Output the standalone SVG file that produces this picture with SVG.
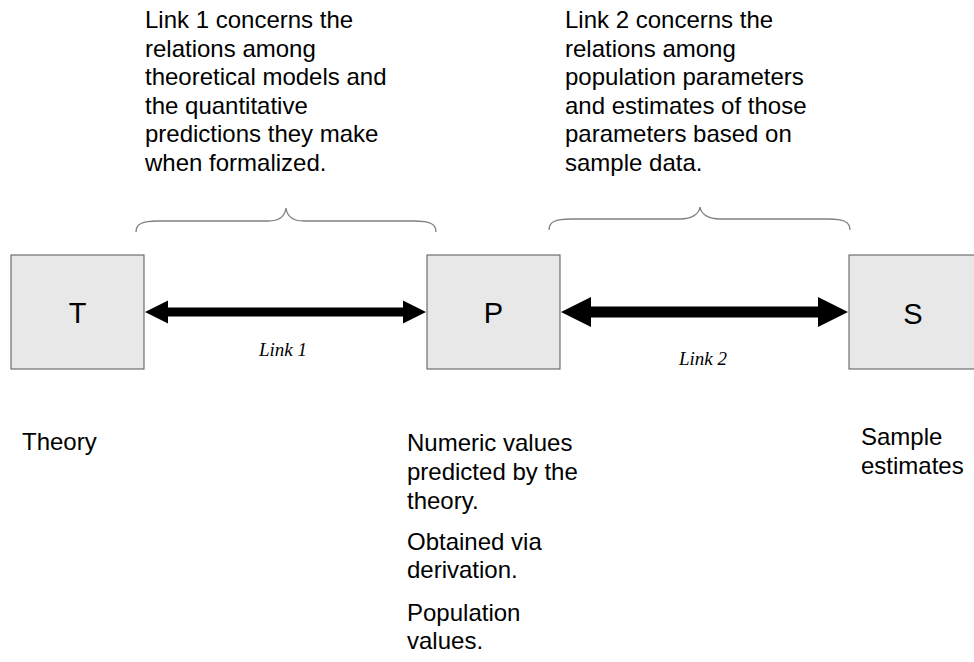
<svg xmlns="http://www.w3.org/2000/svg" width="974" height="662" viewBox="0 0 974 662">
<style>
  .box { fill: #e8e8e8; stroke: #555555; stroke-width: 1; }
  .sans { font-family: "Liberation Sans", Arial, sans-serif; fill: #000000; }
  .t { font-size: 24px; }
  .big { font-size: 29px; text-anchor: middle; }
  .lbl { font-family: "Liberation Serif", "Times New Roman", serif; font-style: italic; font-size: 19px; text-anchor: middle; fill: #000; }
  .brace { fill: none; stroke: #808080; stroke-width: 1.3; }
  .arrow { fill: #000000; }
</style>
<rect width="974" height="662" fill="#ffffff"/>

<g id="connectors">
  <path class="arrow" d="M145,312 L168,300.5 L168,307.5 L403,307.5 L403,300.5 L426,312 L403,323.5 L403,316.5 L168,316.5 L168,323.5 Z"/>
  <path class="arrow" d="M561,312 L591,297 L591,306.5 L818,306.5 L818,297 L848,312 L818,327 L818,317.5 L591,317.5 L591,327 Z"/>
  <text class="lbl" x="283" y="356">Link 1</text>
  <text class="lbl" x="703" y="365">Link 2</text>
</g>

<g id="brace1">
  <path class="brace" d="M136,232 C136,224 142,221 158,221 L268,221 C280,221 285,216 286,208 C287,216 292,221 304,221 L414,221 C430,221 436,224 436,232"/>
</g>
<g id="brace2">
  <path class="brace" d="M549,230 C549,222 555,219 571,219 L680,219 C692,219 699,214 700,207 C701,214 708,219 720,219 L828,219 C844,219 850,222 850,230"/>
</g>

<g id="note1" class="sans t">
  <text x="145" y="28">Link 1 concerns the</text>
  <text x="145" y="56.5">relations among</text>
  <text x="145" y="85">theoretical models and</text>
  <text x="145" y="113.5">the quantitative</text>
  <text x="145" y="142">predictions they make</text>
  <text x="145" y="170.5">when formalized.</text>
</g>

<g id="note2" class="sans t">
  <text x="565" y="28">Link 2 concerns the</text>
  <text x="565" y="56.5">relations among</text>
  <text x="565" y="85">population parameters</text>
  <text x="565" y="113.5">and estimates of those</text>
  <text x="565" y="142">parameters based on</text>
  <text x="565" y="170.5">sample data.</text>
</g>

<g id="node-T">
  <rect class="box" x="11" y="255" width="133" height="114"/>
  <text class="sans big" x="77.5" y="323">T</text>
</g>
<g id="node-P">
  <rect class="box" x="427" y="255" width="133" height="114"/>
  <text class="sans big" x="493.5" y="323">P</text>
</g>
<g id="node-S">
  <rect class="box" x="849" y="255" width="133" height="114"/>
  <text class="sans big" x="913" y="324">S</text>
</g>

<g id="desc-T" class="sans t">
  <text x="22" y="450">Theory</text>
</g>
<g id="desc-P" class="sans t">
  <text x="407" y="451">Numeric values</text>
  <text x="407" y="480">predicted by the</text>
  <text x="407" y="509">theory.</text>
  <text x="407" y="549.5">Obtained via</text>
  <text x="407" y="577.5">derivation.</text>
  <text x="407" y="621">Population</text>
  <text x="407" y="649">values.</text>
</g>
<g id="desc-S" class="sans t">
  <text x="861" y="445">Sample</text>
  <text x="861" y="473.5">estimates</text>
</g>
</svg>
